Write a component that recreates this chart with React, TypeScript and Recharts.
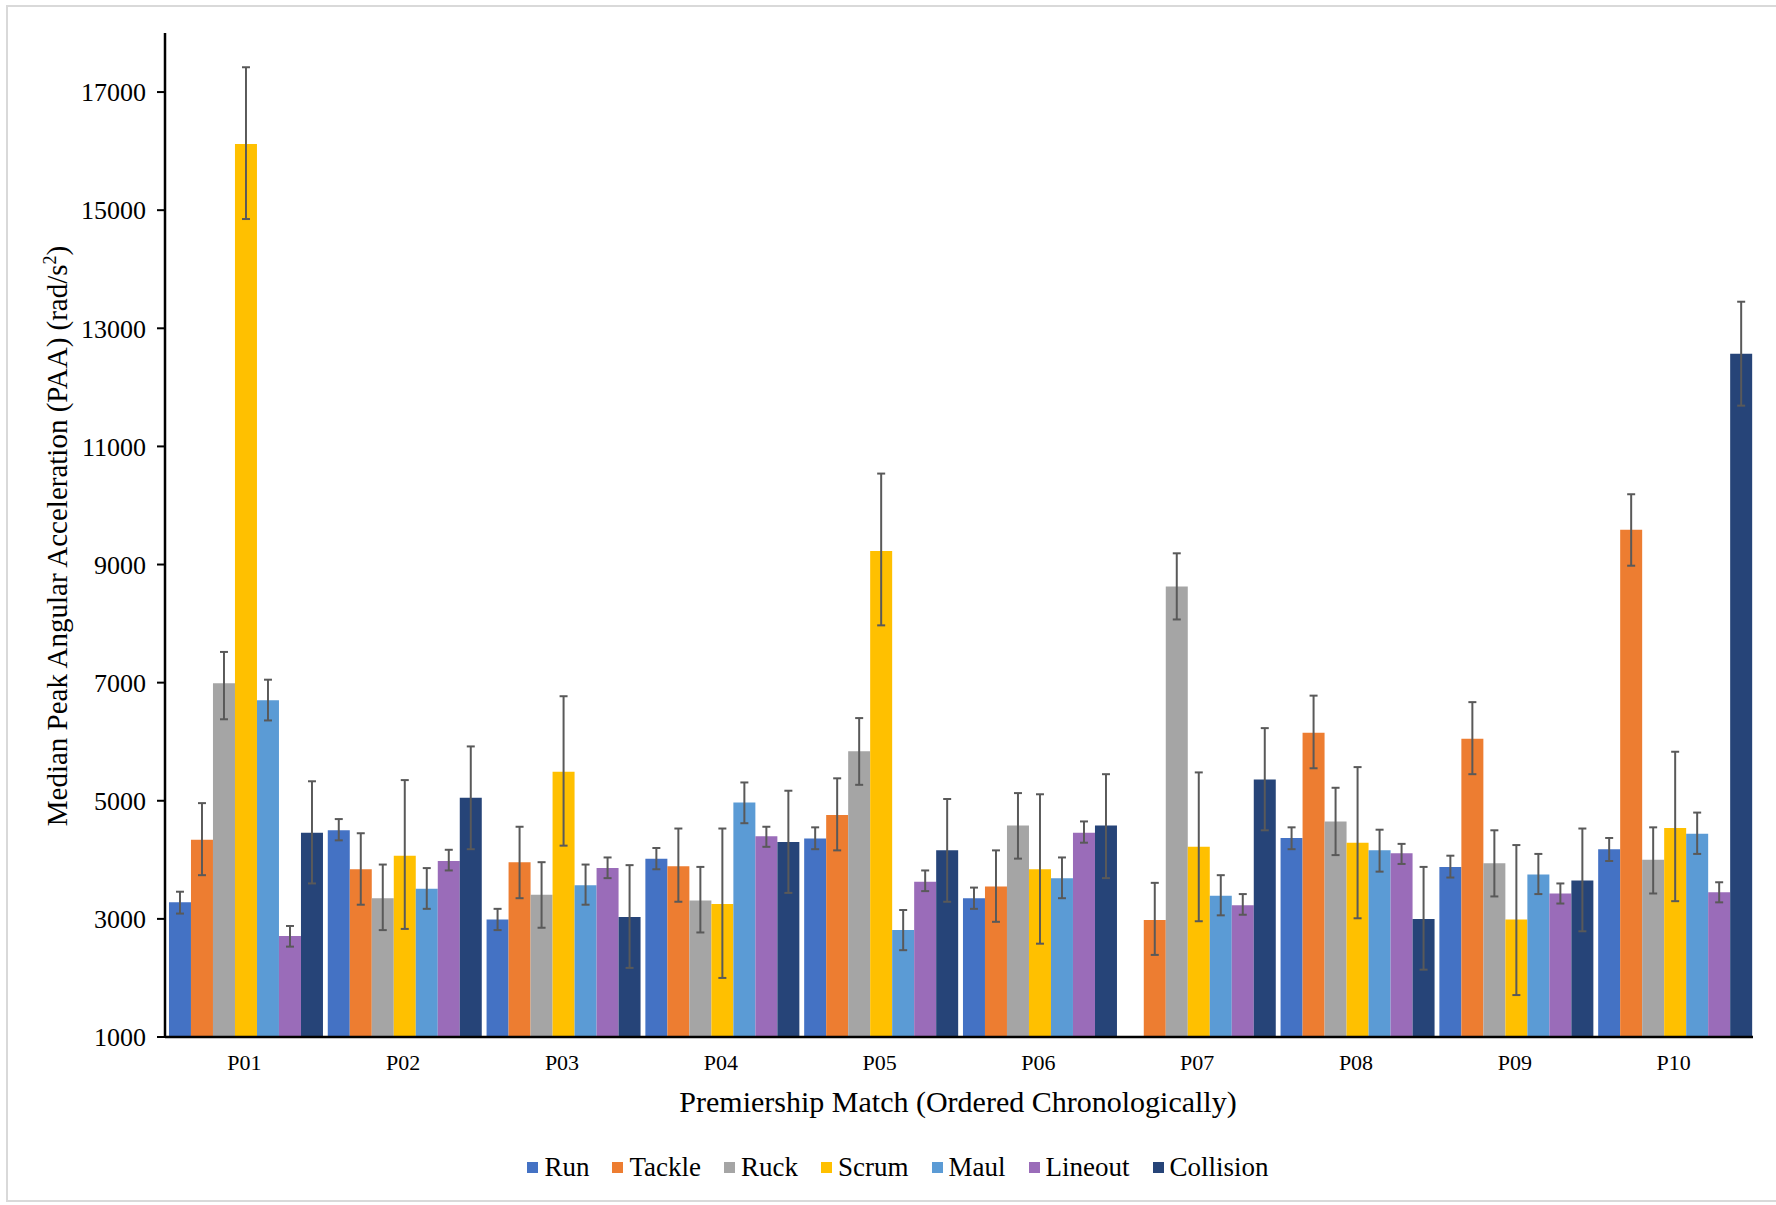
import { BarChart, Bar, XAxis, YAxis, ErrorBar } from "recharts";

/* ── Data (medians with lower / upper error values) ───── */

const matches = ["P01", "P02", "P03", "P04", "P05", "P06", "P07", "P08", "P09", "P10"];

const run = [3280, 4500, 2990, 4020, 4360, 3350, null, 4370, 3880, 4180];
const runLo = [3090, 4330, 2810, 3840, 4180, 3170, null, 4180, 3700, 3980];
const runHi = [3460, 4690, 3170, 4200, 4550, 3530, null, 4550, 4070, 4370];

const tackle = [4340, 3840, 3960, 3890, 4760, 3550, 2980, 6150, 6050, 9590];
const tackleLo = [3740, 3240, 3350, 3290, 4160, 2950, 2390, 5550, 5450, 8980];
const tackleHi = [4960, 4450, 4560, 4530, 5380, 4160, 3610, 6780, 6670, 10190];

const ruck = [6990, 3350, 3410, 3310, 5840, 4580, 8630, 4650, 3940, 4000];
const ruckLo = [6380, 2810, 2850, 2770, 5270, 4020, 8070, 4080, 3380, 3430];
const ruckHi = [7520, 3920, 3960, 3880, 6400, 5130, 9190, 5220, 4500, 4550];

const scrum = [16120, 4070, 5490, 3250, 9230, 3840, 4220, 4290, 2990, 4540];
const scrumLo = [14850, 2830, 4240, 2000, 7970, 2580, 2960, 3010, 1710, 3300];
const scrumHi = [17420, 5350, 6770, 4530, 10540, 5110, 5480, 5570, 4250, 5830];

const maul = [6700, 3510, 3570, 4970, 2810, 3690, 3390, 4160, 3750, 4440];
const maulLo = [6360, 3170, 3240, 4620, 2470, 3350, 3060, 3800, 3420, 4100];
const maulHi = [7050, 3860, 3920, 5310, 3150, 4040, 3740, 4510, 4100, 4800];

const lineout = [2710, 3980, 3860, 4400, 3630, 4460, 3230, 4110, 3430, 3450];
const lineoutLo = [2530, 3820, 3690, 4220, 3470, 4290, 3070, 3930, 3260, 3280];
const lineoutHi = [2880, 4170, 4040, 4560, 3820, 4650, 3420, 4270, 3600, 3620];

const collision = [4460, 5050, 3030, 4300, 4160, 4580, 5360, 3000, 3650, 12570];
const collisionLo = [3600, 4180, 2170, 3440, 3290, 3690, 4500, 2140, 2790, 11690];
const collisionHi = [5330, 5920, 3910, 5170, 5030, 5450, 6230, 3880, 4530, 13450];

const yTicks = [1000, 3000, 5000, 7000, 9000, 11000, 13000, 15000, 17000];

const SERIES = [
  { key: "run", name: "Run", color: "#4472C4", v: run, lo: runLo, hi: runHi },
  { key: "tackle", name: "Tackle", color: "#ED7D31", v: tackle, lo: tackleLo, hi: tackleHi },
  { key: "ruck", name: "Ruck", color: "#A5A5A5", v: ruck, lo: ruckLo, hi: ruckHi },
  { key: "scrum", name: "Scrum", color: "#FFC000", v: scrum, lo: scrumLo, hi: scrumHi },
  { key: "maul", name: "Maul", color: "#5B9BD5", v: maul, lo: maulLo, hi: maulHi },
  { key: "lineout", name: "Lineout", color: "#9A6CB9", v: lineout, lo: lineoutLo, hi: lineoutHi },
  { key: "collision", name: "Collision", color: "#264478", v: collision, lo: collisionLo, hi: collisionHi },
];

const data = matches.map((m, i) => {
  const row: Record<string, unknown> = { name: m };
  for (const s of SERIES) {
    const val = s.v[i];
    row[s.key] = val;
    row[s.key + "Err"] =
      val == null ? null : [val - (s.lo[i] as number), (s.hi[i] as number) - val];
  }
  return row;
});

/* ── Layout ───────────────────────────────────────────── */

const FONT = "'Liberation Serif', 'Times New Roman', serif";
const W = 1776;
const H = 1205;

export default function App() {
  return (
    <div
      style={{
        position: "absolute",
        left: 0,
        top: 0,
        width: W,
        height: H,
        background: "#fff",
        fontFamily: FONT,
      }}
    >
      <div
        style={{
          position: "absolute",
          left: 6,
          top: 5,
          width: W,
          height: H - 8,
          border: "2px solid #d9d9d9",
          boxSizing: "border-box",
        }}
      />
      <BarChart
        width={W}
        height={H}
        data={data}
        margin={{ top: 33, right: 23, left: 85, bottom: 138 }}
        barCategoryGap="2.5%"
        barGap={0}
      >
        <XAxis
          dataKey="name"
          height={30}
          axisLine={{ stroke: "#000", strokeWidth: 2.5 }}
          tickLine={false}
          tickSize={0}
          tickMargin={17}
          tick={{ fontSize: 22, fill: "#000", fontFamily: FONT }}
        />
        <YAxis
          width={80}
          domain={[1000, 18000]}
          ticks={yTicks}
          allowDataOverflow
          axisLine={{ stroke: "#000", strokeWidth: 2.5 }}
          tickLine={{ stroke: "#000", strokeWidth: 2 }}
          tickSize={8}
          tickMargin={11}
          tick={{ fontSize: 26, fill: "#000", fontFamily: FONT }}
        />
        {SERIES.map((s) => (
          <Bar
            key={s.key}
            dataKey={s.key}
            name={s.name}
            fill={s.color}
            isAnimationActive={false}
          >
            <ErrorBar
              dataKey={s.key + "Err"}
              direction="y"
              width={4}
              stroke="#595959"
              strokeWidth={2}
              isAnimationActive={false}
            />
          </Bar>
        ))}
      </BarChart>

      {/* legend */}
      <div
        style={{
          position: "absolute",
          left: 20,
          top: 1152,
          width: W - 20,
          display: "flex",
          justifyContent: "center",
          gap: 23,
          fontSize: 27,
          color: "#000",
        }}
      >
        {SERIES.map((s) => (
          <div key={s.key} style={{ display: "flex", alignItems: "center", gap: 6 }}>
            <div style={{ width: 11, height: 11, background: s.color }} />
            <span>{s.name}</span>
          </div>
        ))}
      </div>

      <div
        style={{
          position: "absolute",
          left: 57,
          top: 536,
          transform: "translate(-50%, -50%) rotate(-90deg)",
          whiteSpace: "nowrap",
          fontSize: 29,
          color: "#000",
        }}
      >
        Median Peak Angular Acceleration (PAA) (rad/s<sup style={{ fontSize: 18 }}>2</sup>)
      </div>
      <div
        style={{
          position: "absolute",
          left: 958,
          top: 1102,
          transform: "translate(-50%, -50%)",
          whiteSpace: "nowrap",
          fontSize: 30,
          color: "#000",
        }}
      >
        Premiership Match (Ordered Chronologically)
      </div>
    </div>
  );
}
